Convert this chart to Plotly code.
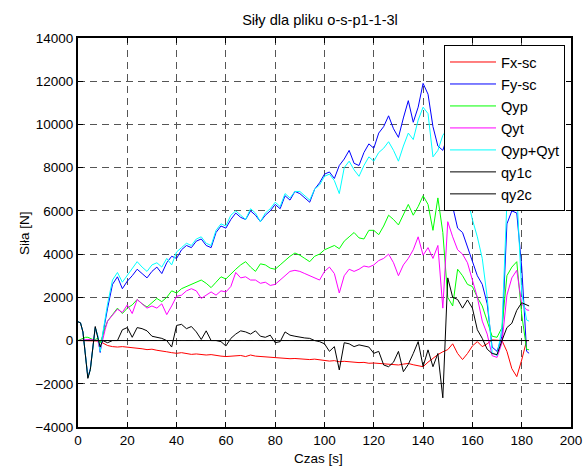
import plotly.graph_objects as go

# Sample times [s]: 1 s steps at the start, then 2 s steps
t = list(range(0, 13)) + list(range(14, 183, 2)) + [183]

fx_sc = [
    0, 0, 0, 0, 0, 0, 0, 0, -20, -50, -100, -150, -230,
    -280, -300, -280, -300,
    -330, -350, -380, -420, -400, -450, -500, -520, -560, -590,
    -560, -600, -640, -620, -660, -670, -650, -700, -720, -740,
    -720, -700, -690, -740, -670, -720, -740, -760, -750, -780,
    -800, -820, -840, -830, -850, -870, -880, -860, -900, -920,
    -950, -930, -980, -960, -990, -1000, -1020, -1010, -1050, -1040,
    -1060, -1080, -1100, -1120, -1130, -1090, -1060, -1120, -1180, -1210,
    -1000, -820, -650, -520, -420, -150, -600, -880, -600, -250,
    -50, -280, -150, 30, 0, 0, -500, -1300, -1670, -900,
    0, 0,
]

fy_sc = [
    870, 820, 400, -650, -1700, -1300, -200, 600, 200, -550, 250, 900, 1500,
    2600, 2950, 2400, 2750,
    3000, 3300, 3100, 2900, 3200, 3400, 3100, 3600, 3900, 3800,
    4200, 4400, 4300, 4600, 4700, 4400, 4300, 5000, 5300, 5200,
    5600, 5900, 5700, 5600, 6000, 5800, 5500, 5800, 6000, 6300,
    6100, 6700, 6500, 6900, 6800, 6600, 6400, 7000, 7300, 7700,
    7800, 7500, 8100, 8400, 8800, 8200, 8100, 8700, 9100, 8900,
    9600, 9900, 10400, 9800, 9400, 10300, 11100, 10100, 10800, 11900,
    11400, 9900, 9000, 8800, 9500, 6200, 5200, 5000, 4300, 3700,
    3000, 2600, 1700, -300, -500, 200, 5400, 6000, 5900, 3400,
    -500, -590,
]

qyp = [
    0, 50, 100, 150, 150, 100, 50, 50, 100, -100, 200, 600, 900,
    1200, 1500, 1250, 1500,
    1650, 1900, 1700, 1550, 1750, 1950, 1800, 2000, 2300, 2200,
    2400, 2500, 2600, 2700, 2800, 2650, 2450, 2700, 2950, 2850,
    3100, 3300, 3500, 3650, 3400, 3200, 3550, 3500, 3350, 3300,
    3500, 3700, 3900, 4050, 3950, 3800, 3650, 3900, 4000, 4200,
    4300, 4400, 4250, 4600, 4800, 5000, 4750, 4700, 5100, 5100,
    4900, 5300, 5800, 5600, 5350, 5800, 6300, 5800, 6200, 6700,
    6300, 5100, 6600, 5000, 2000, 1600, 3300, 3000, 2600, 2500,
    2000, 1600, 900, 200, 150, 600, 3000, 3400, 3650, 1200,
    -400, -430,
]

qyt = [
    0, 20, 30, 50, 50, 50, 30, 30, 0, -450, 100, 500, 900,
    1150, 1450, 1300, 1650,
    1250, 1900, 1700, 1500, 1600, 1500, 1700, 1200, 1600, 2050,
    2100, 2300, 2400, 2300, 1950, 2100, 2250, 2100, 2300, 2250,
    2500, 3150, 2900, 2950, 2800, 2800, 2650, 2700, 2550, 2600,
    2800, 3000, 3200, 3250, 3200, 3100, 3000, 2900, 2800, 3200,
    3400, 3100, 2200, 3000, 3300, 3200, 3300, 3450, 3400, 3500,
    3700, 3800, 4000, 3600, 3000, 3500, 3800, 4200, 4800, 3950,
    4300, 3800, 4400, 1500, 5500, 4800, 4200, 4000, 3600, 2800,
    2000, 900, 300, -700, -780, -100, 2100, 2900, 3250, 1700,
    1420, 1400,
]

qyp_qyt = [
    870, 820, 400, -650, -1700, -1350, -250, 600, 250, -500, 300, 1000, 1700,
    2800, 3150, 2700, 3000,
    3300, 3650, 3400, 3200, 3500, 3600, 3400, 3800, 3500, 4100,
    4300, 4500, 4400, 4700, 4800, 4500, 4400, 5100, 5400, 5300,
    5800, 6000, 5800, 5600, 6100, 5900, 5500, 5900, 6100, 6400,
    6200, 6800, 6600, 6900, 6900, 6700, 6500, 7000, 7200, 7600,
    7700, 7400, 6800, 8000, 8300, 7900, 7600, 8100, 8500, 8300,
    8700, 8900, 9200, 8800, 8300, 9000, 9600, 9300, 10200, 10800,
    10500, 8500, 8800, 9500, 9800, 7000, 6500, 6800, 6600, 5600,
    4800, 3800, 2000, -550, -700, 600, 6400, 7000, 6900, 2200,
    950, 900,
]

qy1c = [
    870, 820, 400, -650, -1750, -1350, -200, 650, 150, -300, 0, -50, -100,
    0, 0, 500, 600,
    150, 600, 550, 450, 200, 150, 100, 0, -300, 700,
    750, 550, 650, 400, 50, 450, 0, 0, -50, -250,
    100, 300, 450, 400, 300, 450, 200, 150, 250, -100,
    -50, 400, 250, 200, 150, 120, 100, 0, -50, -150,
    -500, -280, -1360, -100, -150, -280, -200, -250, -300, -590,
    -500, -1130, -1210, -1000, -500, -1440, -1100, -600, -50, -1200,
    -430, -1210, -600, -2650, 2900, 2000, 1900, 1500, 1880, 1500,
    500, 100, -400, -600, -650, 0, 600, 800, 1400, 1750,
    1650, 1600,
]

qy2c = [
    0, 0, 0, 0, 0, 0, 0, 0, 0, 0, 0, 0, 0,
    0, 0, 0, 0,
    0, 0, 0, 0, 0, 0, 0, 0, 0, 0,
    0, 0, 0, 0, 0, 0, 0, 0, 0, 0,
    0, 0, 0, 0, 0, 0, 0, 0, 0, 0,
    0, 0, 0, 0, 0, 0, 0, 0, 0, 0,
    0, 0, 0, 0, 0, 0, 0, 0, 0, 0,
    0, 0, 0, 0, 0, 0, 0, 0, 0, 0,
    0, 0, 0, 0, 0, 0, 0, 0, 0, 0,
    0, 0, 0, 0, 0, 0, 0, 0, 0, 0,
    0, 0,
]

series = [
    ("Fx-sc", fx_sc, "#ff0000"),
    ("Fy-sc", fy_sc, "#0000ff"),
    ("Qyp", qyp, "#00ff00"),
    ("Qyt", qyt, "#ff00ff"),
    ("Qyp+Qyt", qyp_qyt, "#00ffff"),
    ("qy1c", qy1c, "#000000"),
    ("qy2c", qy2c, "#000000"),
]

x_ticks = list(range(0, 201, 20))
y_ticks = list(range(-4000, 14001, 2000))

FONT = "Liberation Sans, Arial, sans-serif"

fig = go.Figure()
for name, vals, color in series:
    fig.add_trace(go.Scatter(
        x=t, y=vals, name=name, mode="lines",
        line=dict(color=color, width=1),
    ))

axis_style = dict(
    showline=True, linecolor="black", linewidth=2, mirror="ticks",
    ticks="inside", ticklen=5, tickwidth=1, tickcolor="black",
    showgrid=True, gridcolor="#555555", gridwidth=1, griddash="7px,5px",
    zeroline=False, automargin=False, tickformat="d",
    tickfont=dict(family=FONT, size=13.5, color="black"),
)

fig.update_layout(
    width=583, height=466,
    margin=dict(l=78, r=12, t=38, b=39, pad=0),
    paper_bgcolor="white", plot_bgcolor="white",
    font=dict(family=FONT, size=13.5, color="black"),
    title=dict(
        text="Siły dla pliku o-s-p1-1-3l",
        x=320 / 583, xref="container", xanchor="center",
        y=1 - 20 / 466, yref="container", yanchor="middle",
        font=dict(family=FONT, size=14.6, color="black"),
    ),
    xaxis=dict(range=[0, 200], tickvals=x_ticks, **axis_style),
    yaxis=dict(range=[-4000, 14000], tickvals=y_ticks, **axis_style),
    legend=dict(
        x=(565 - 78) / 493, xanchor="right", y=(427 - 45) / 389, yanchor="top",
        bgcolor="white", bordercolor="black", borderwidth=1,
        font=dict(family=FONT, size=14.6, color="black"),
        itemwidth=46, tracegroupgap=0,
    ),
    showlegend=True,
    annotations=[
        dict(text="Czas [s]", xref="paper", yref="paper",
             x=(318 - 78) / 493, y=(427 - 458) / 389,
             xanchor="center", yanchor="middle", showarrow=False,
             font=dict(family=FONT, size=13.5, color="black")),
        dict(text="Siła [N]", xref="paper", yref="paper",
             x=(25 - 78) / 493, y=(427 - 233) / 389, textangle=-90,
             xanchor="center", yanchor="middle", showarrow=False,
             font=dict(family=FONT, size=13.5, color="black")),
    ],
)

fig.write_html("out.html")
